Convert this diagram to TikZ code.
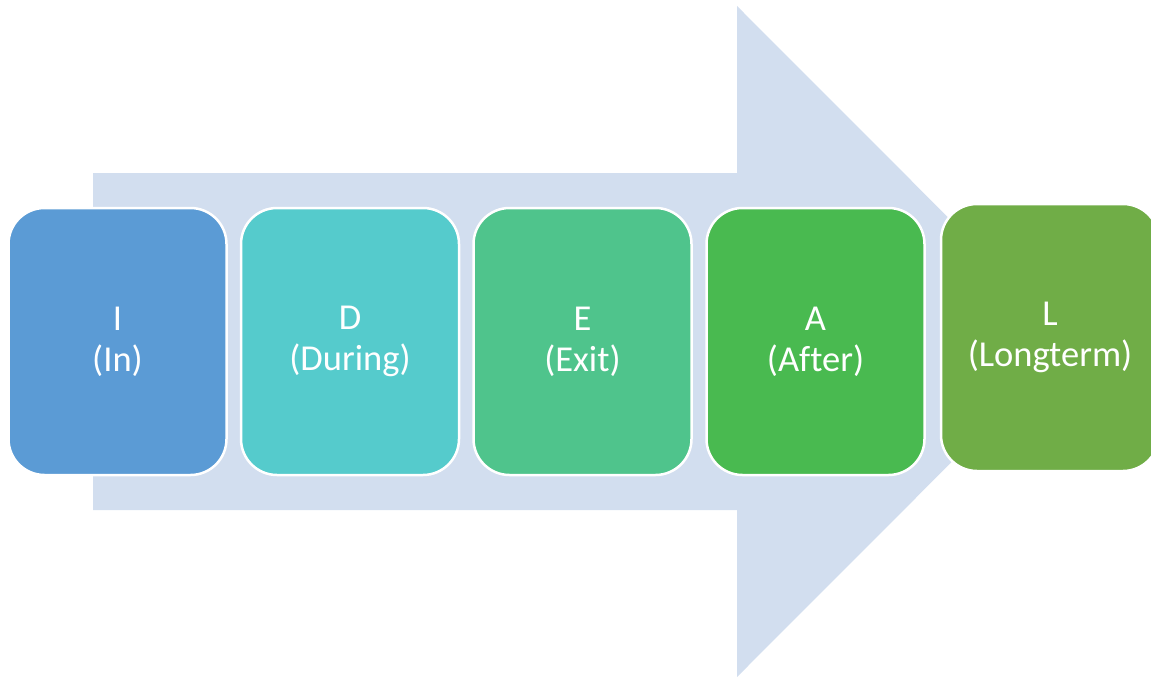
\documentclass[tikz,border=0pt]{standalone}
\usepackage{fontspec}
\setmainfont{Carlito}[Ligatures=CommonOff]
\definecolor{arrowfill}{HTML}{D2DEEF}
\definecolor{cI}{HTML}{5B9BD5}
\definecolor{cD}{HTML}{55CBCC}
\definecolor{cE}{HTML}{4FC48C}
\definecolor{cA}{HTML}{49BA50}
\definecolor{cL}{HTML}{70AD47}
\begin{document}
\begin{tikzpicture}[x=1pt,y=-1pt,
  stagebox/.style={draw=white, line width=2.5pt, rounded corners=36pt,
    minimum width=218pt, minimum height=267pt, align=center, text=white,
    font=\fontsize{36.5}{41}\selectfont, inner sep=0pt}]
\useasboundingbox (0,0) rectangle (1151,677);
\fill[arrowfill] (93,173) -- (737,173) -- (737,6) -- (1072,341.5) -- (737,677) -- (737,510) -- (93,510) -- cycle;
\node[stagebox, fill=cI] (I) at (117.5,341.5) {I\\(In)};
\node[stagebox, fill=cD] (D) at (350,341.5) {D\\(During)};
\node[stagebox, fill=cE] (E) at (582.5,341.5) {E\\(Exit)};
\node[stagebox, fill=cA] (A) at (815.5,341.5) {A\\(After)};
\node[stagebox, fill=cL] (L) at (1050,337.5) {L\\(Longterm)};
\end{tikzpicture}
\end{document}
